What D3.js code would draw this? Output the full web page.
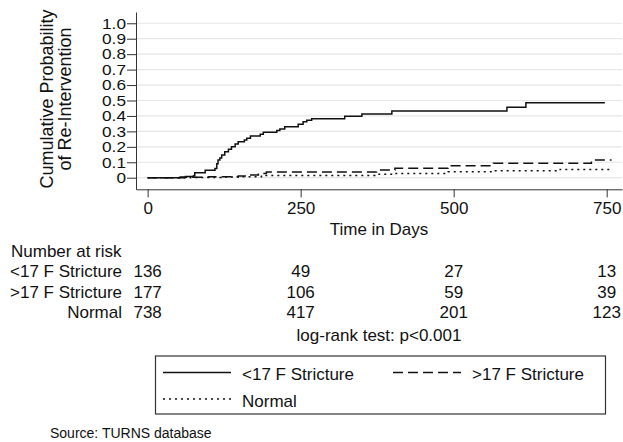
<!DOCTYPE html>
<html>
<head>
<meta charset="utf-8">
<script src="https://cdn.jsdelivr.net/npm/d3@7"></script>
<style>
  body { margin: 0; background: #fff; }
  text { font-family: "Liberation Sans", Arial, Helvetica, sans-serif; fill: #111; }
</style>
</head>
<body>
<svg id="chart" width="623" height="442"></svg>
<script>
// step points [day, cumulative probability]
var stricLow = [[0,0],[53,0.004],[62,0.008],[75,0.012],[77,0.032],[94,0.048],[110,0.06],[113,0.09],[115,0.115],
  [118,0.128],[121,0.147],[126,0.168],[132,0.184],[137,0.2],[143,0.218],[148,0.233],[158,0.245],[162,0.255],
  [168,0.27],[184,0.281],[189,0.294],[211,0.305],[216,0.315],[224,0.33],[246,0.346],[254,0.363],[260,0.372],
  [268,0.382],[322,0.398],[350,0.413],[399,0.432],[587,0.456],[618,0.486],[747,0.486]];
var stricHigh = [[0,0],[60,0.003],[100,0.007],[148,0.011],[165,0.017],[181,0.028],[194,0.037],[374,0.05],
  [404,0.061],[491,0.078],[565,0.093],[725,0.115],[758,0.115]];
var normal = [[0,0],[70,0.002],[120,0.004],[150,0.007],[186,0.015],[371,0.022],[401,0.028],[491,0.038],
  [565,0.045],[674,0.054],[760,0.054]];

var xTicks = [0, 250, 500, 750];
var yTicks = [0, 0.1, 0.2, 0.3, 0.4, 0.5, 0.6, 0.7, 0.8, 0.9, 1.0];

var riskGroups = ["<17 F Stricture", ">17 F Stricture", "Normal"];
var riskTimes = [0, 250, 500, 750];
var riskLow = [136, 49, 27, 13];
var riskHigh = [177, 106, 59, 39];
var riskNormal = [738, 417, 201, 123];

var legendNames = ["<17 F Stricture", ">17 F Stricture", "Normal"];

var svg = d3.select("#chart");

var x = d3.scaleLinear().domain([-19, 775]).range([136, 622]);
var y = d3.scaleLinear().domain([-0.075, 1.073]).range([189.3, 12]);

// grid
svg.append("g").selectAll("line")
  .data(yTicks)
  .enter().append("line")
  .attr("x1", 136).attr("x2", 622)
  .attr("y1", function (d) { return y(d); })
  .attr("y2", function (d) { return y(d); })
  .style("stroke", "#e6e6e6")
  .style("stroke-width", 1.2);

// axes
var yAxis = svg.append("g")
  .attr("transform", "translate(136,0)")
  .call(d3.axisLeft(y).tickValues(yTicks).tickSize(9).tickSizeOuter(0).tickPadding(1)
    .tickFormat(function (d) { return d === 0 ? "0" : d.toFixed(1); }));
yAxis.selectAll("text")
  .attr("x", -10 / 1.15)
  .attr("transform", "scale(1.15,1)")
  .style("font-size", "15px")
  .style("font-family", "'Liberation Sans', Arial, sans-serif");

var xAxis = svg.append("g")
  .attr("transform", "translate(0,189.3)")
  .call(d3.axisBottom(x).tickValues(xTicks).tickSize(8).tickSizeOuter(0).tickFormat(d3.format("d")));
xAxis.selectAll("text")
  .attr("y", 25).attr("dy", null)
  .style("font-size", "17px")
  .style("font-family", "'Liberation Sans', Arial, sans-serif");

svg.selectAll(".domain, .tick line").style("stroke", "#333");
svg.selectAll("g text").style("fill", "#111");

// curves
var line = d3.line()
  .x(function (d) { return x(d[0]); })
  .y(function (d) { return y(d[1]); })
  .curve(d3.curveStepAfter);

var series = [
  { data: stricLow, dash: null },
  { data: stricHigh, dash: "10,5" },
  { data: normal, dash: "2,4" }
];

series.forEach(function (s) {
  svg.append("path")
    .attr("d", line(s.data))
    .style("fill", "none")
    .style("stroke", "#111")
    .style("stroke-width", 1.5)
    .style("stroke-dasharray", s.dash);
});

// titles
svg.append("text")
  .attr("transform", "translate(53,99) rotate(-90)")
  .attr("text-anchor", "middle")
  .style("font-size", "18px")
  .text("Cumulative Probability");
svg.append("text")
  .attr("transform", "translate(70.5,99) rotate(-90)")
  .attr("text-anchor", "middle")
  .style("font-size", "18px")
  .text("of Re-Intervention");

svg.append("text")
  .attr("x", (x.range()[0] + x.range()[1]) / 2)
  .attr("y", 235)
  .attr("text-anchor", "middle")
  .style("font-size", "17px")
  .text("Time in Days");

// number at risk table
svg.append("text")
  .attr("x", 11)
  .attr("y", 257)
  .style("font-size", "17px")
  .text("Number at risk");

var riskRows = [riskLow, riskHigh, riskNormal];
var rowY = [277, 297.5, 318];

riskRows.forEach(function (row, i) {
  svg.append("text")
    .attr("x", 122)
    .attr("y", rowY[i])
    .attr("text-anchor", "end")
    .style("font-size", "17px")
    .text(riskGroups[i]);
  svg.append("g").selectAll("text")
    .data(row)
    .enter().append("text")
    .attr("x", function (d, j) { return x(riskTimes[j]); })
    .attr("y", rowY[i])
    .attr("text-anchor", "middle")
    .style("font-size", "17px")
    .text(function (d) { return d; });
});

svg.append("text")
  .attr("x", (x.range()[0] + x.range()[1]) / 2)
  .attr("y", 341)
  .attr("text-anchor", "middle")
  .style("font-size", "17px")
  .text("log-rank test: p<0.001");

// legend
var legend = svg.append("g");
legend.append("rect")
  .attr("x", 155.5).attr("y", 356)
  .attr("width", 450).attr("height", 58)
  .style("fill", "none")
  .style("stroke", "#333")
  .style("stroke-width", 1.2);

var legendPos = [[163, 372.5], [393, 372.5], [163, 399]];
legendNames.forEach(function (name, i) {
  var p = legendPos[i];
  legend.append("line")
    .attr("x1", p[0]).attr("x2", p[0] + 68)
    .attr("y1", p[1]).attr("y2", p[1])
    .style("stroke", "#111")
    .style("stroke-width", 1.4)
    .style("stroke-dasharray", series[i].dash);
  legend.append("text")
    .attr("x", p[0] + 79)
    .attr("y", p[1] + 7.5)
    .style("font-size", "17px")
    .text(name);
});

svg.append("text")
  .attr("x", 50)
  .attr("y", 438)
  .style("font-size", "14px")
  .text("Source: TURNS database");
</script>
</body>
</html>
